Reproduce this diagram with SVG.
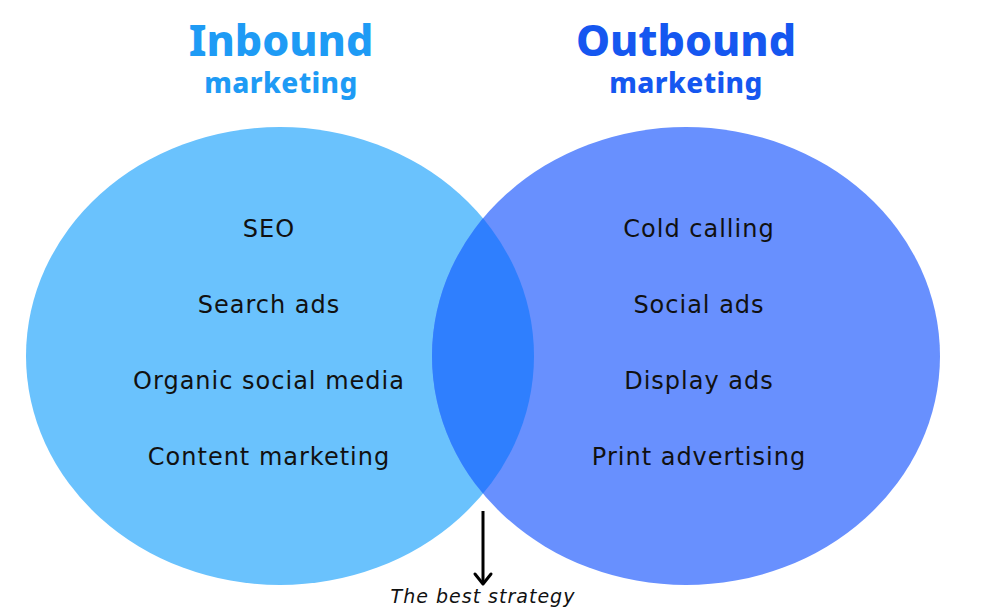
<svg xmlns="http://www.w3.org/2000/svg" width="991" height="612" viewBox="0 0 991 612">
<style>
.item{font-family:"DejaVu Sans","Noto Sans",sans-serif;font-size:24px;letter-spacing:1px;fill:#111;text-anchor:middle}
.title{font-family:"Noto Sans","Open Sans",sans-serif;font-weight:800;text-anchor:middle}
</style>
<defs>
<clipPath id="clipL"><ellipse cx="280" cy="356" rx="254" ry="229"/></clipPath>
</defs>
<rect width="991" height="612" fill="#fff"/>
<g id="inbound-title">
<text class="title" x="281" y="56" font-size="43" fill="#1E9BF5">Inbound</text>
<text class="title" x="281" y="93" font-size="28" letter-spacing="0.4" fill="#1E9BF5">marketing</text>
</g>
<g id="outbound-title">
<text class="title" x="686" y="56" font-size="43" fill="#1557F0">Outbound</text>
<text class="title" x="686" y="93" font-size="28" letter-spacing="0.4" fill="#1557F0">marketing</text>
</g>
<g id="inbound">
<ellipse cx="280" cy="356" rx="254" ry="229" fill="#6AC2FD"/>
</g>
<g id="outbound">
<ellipse cx="686" cy="356" rx="254" ry="229" fill="#6890FE"/>
</g>
<g id="overlap">
<ellipse cx="686" cy="356" rx="254" ry="229" fill="#2F7FFE" clip-path="url(#clipL)"/>
</g>
<g id="inbound-items">
<text class="item" x="269" y="237">SEO</text>
<text class="item" x="269" y="313">Search ads</text>
<text class="item" x="269" y="389">Organic social media</text>
<text class="item" x="269" y="465">Content marketing</text>
</g>
<g id="outbound-items">
<text class="item" x="699" y="237">Cold calling</text>
<text class="item" x="699" y="313">Social ads</text>
<text class="item" x="699" y="389">Display ads</text>
<text class="item" x="699" y="465">Print advertising</text>
</g>
<g id="connectors">
<line x1="483" y1="511" x2="483" y2="584" stroke="#000" stroke-width="3"/>
<polyline points="475,574 483,584 491,574" fill="none" stroke="#000" stroke-width="3" stroke-linecap="round" stroke-linejoin="round"/>
</g>
<g id="label">
<text x="483" y="603" font-family="DejaVu Sans, Noto Sans, sans-serif" font-style="italic" font-size="19" letter-spacing="1" fill="#111" text-anchor="middle">The best strategy</text>
</g>
</svg>
